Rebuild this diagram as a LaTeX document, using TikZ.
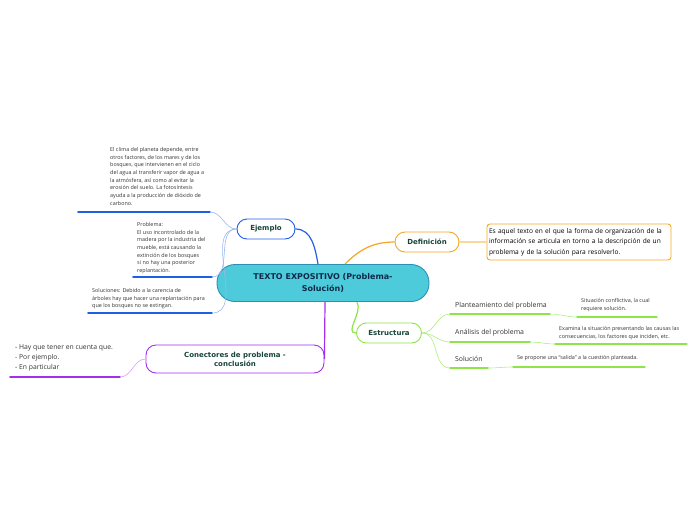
\documentclass[tikz,border=0pt]{standalone}
\usepackage{fontspec}
\setmainfont{Open Sans}
\newfontfamily\titlefont{DejaVu Sans}
\usetikzlibrary{positioning}
\definecolor{hub}{HTML}{4ECBDB}
\definecolor{hubline}{HTML}{2A8FB2}
\definecolor{navy}{HTML}{0E2A4A}
\definecolor{deep}{HTML}{17453A}
\definecolor{ejblue}{HTML}{1F5FE8}
\definecolor{deforange}{HTML}{F5A623}
\definecolor{estgreen}{HTML}{8EE54A}
\definecolor{conpurple}{HTML}{A22EF0}
\definecolor{leaftext}{HTML}{333333}

\begin{document}
\begin{tikzpicture}[x=1pt,y=-1pt,
    topic/.style={draw,line width=0.9pt,fill=white,rounded corners=10pt,align=center,inner sep=2pt,
      text=deep,font=\titlefont\bfseries\fontsize{7}{9}\selectfont},
    hubbox/.style={draw=hubline,line width=0.9pt,fill=hub,rounded corners=18pt,align=center,
      minimum width=212pt,minimum height=37pt,text=navy,font=\titlefont\bfseries\fontsize{8}{11.5}\selectfont},
    leaf/.style={anchor=north west,inner sep=0pt,align=left,text=leaftext,font=\fontsize{5.4}{7.7}\selectfont},
    label/.style={anchor=west,inner sep=0pt,text=leaftext,font=\fontsize{6.9}{8}\selectfont},
    uline/.style={line width=1.6pt,line cap=round},
    twig/.style={line width=0.6pt},
    branch/.style={line width=1.2pt}
  ]
    \useasboundingbox (0,0) rectangle (696,520);
    % main topic and its four branches
    \node[hubbox] (hub) at (323,283) {TEXTO EXPOSITIVO (Problema-\\Solución)};
    \node[topic,draw=ejblue,minimum width=58pt,minimum height=20pt] (ejemplo) at (266,229) {Ejemplo};
    \node[topic,draw=deforange,minimum width=64pt,minimum height=20pt] (defin) at (427,242) {Definición};
    \node[topic,draw=estgreen,minimum width=65pt,minimum height=20pt] (estruc) at (389,333) {Estructura};
    \node[topic,draw=conpurple,minimum width=178pt,minimum height=28pt] (conect) at (235,359) {Conectores de problema -\\conclusión};
    \draw[branch,ejblue] ([xshift=-5pt]hub.north) to[out=100,in=0] (ejemplo.east);
    \draw[branch,deforange] ([xshift=22pt]hub.north) to[out=45,in=180] (defin.west);
    \draw[branch,estgreen] ([xshift=34pt]hub.south) to[out=-60,in=180] (estruc.west);
    \draw[branch,conpurple] ([xshift=2pt]hub.south) -- (conect.east);

    % Ejemplo
    \node[leaf] (ej1) at (110,147) {El clima del planeta depende, entre\\otros factores, de los mares y de los\\bosques, que intervienen en el ciclo\\del agua al transferir vapor de agua a\\la atmósfera, así como al evitar la\\erosión del suelo. La fotosíntesis\\ayuda a la producción de dióxido de\\carbono.};
    \node[leaf] (ej2) at (137,222) {Problema:\\El uso incontrolado de la\\madera por la industria del\\mueble, está causando la\\extinción de los bosques\\si no hay una posterior\\replantación.};
    \node[leaf] (ej3) at (92,288) {Soluciones: Debido a la carencia de\\árboles hay que hacer una replantación para\\que los bosques no se extingan.};
    \coordinate (ej1a) at (78,212); \coordinate (ej1b) at (210,212);
    \coordinate (ej2a) at (133,277); \coordinate (ej2b) at (212,277);
    \coordinate (ej3a) at (88,313); \coordinate (ej3b) at (212,313);
    \draw[uline,ejblue] (ej1a) -- (ej1b);
    \draw[uline,ejblue] (ej2a) -- (ej2b);
    \draw[uline,ejblue] (ej3a) -- (ej3b);
    \draw[twig,ejblue!45] (ejemplo.west) to[out=180,in=0] (ej1b);
    \draw[twig,ejblue!45] (ejemplo.west) to[out=180,in=0] (ej2b);
    \draw[twig,ejblue!45] (ejemplo.west) to[out=180,in=0] (ej3b);

    % Definición
    \node[draw=deforange,line width=0.9pt,rounded corners=3pt,minimum width=184pt,minimum height=36pt,
      text width=180pt,inner sep=2pt,align=left,text=black,font=\fontsize{6.6}{10.5}\selectfont] (deftext) at (579,242)
      {Es aquel texto en el que la forma de organización de la\\información se articula en torno a la descripción de un\\problema y de la solución para resolverlo.};
    \draw[branch,deforange!45] (defin.east) -- (deftext.west);

    % Estructura
    \node[label] (plan) at (455,306) {Planteamiento del problema};
    \node[label] (anal) at (455,333) {Análisis del problema};
    \node[label] (solu) at (455,359) {Solución};
    \coordinate (plana) at (450,314); \coordinate (planb) at (550,314);
    \coordinate (anala) at (450,342); \coordinate (analb) at (530,342);
    \coordinate (solua) at (450,368); \coordinate (solub) at (488,368);
    \draw[uline,estgreen] (plana) -- (planb);
    \draw[uline,estgreen] (anala) -- (analb);
    \draw[uline,estgreen] (solua) -- (solub);
    \draw[twig,estgreen!70] (estruc.east) to[out=0,in=180] (plana);
    \draw[twig,estgreen!70] (estruc.east) to[out=0,in=180] (anala);
    \draw[twig,estgreen!70] (estruc.east) to[out=0,in=180] (solua);
    \node[leaf] (plansub) at (581,298) {Situación conflictiva, la cual\\requiere solución.};
    \node[leaf] (analsub) at (559,326) {Examina la situación presentando las causas las\\consecuencias, los factores que inciden, etc.};
    \node[leaf] (solusub) at (517,355) {Se propone una ``salida'' a la cuestión planteada.};
    \coordinate (plansa) at (577,317); \coordinate (plansb) at (657,317);
    \coordinate (analsa) at (555,344); \coordinate (analsb) at (687,344);
    \coordinate (solusa) at (513,367); \coordinate (solusb) at (645,367);
    \draw[uline,line width=1.2pt,estgreen] (plansa) -- (plansb);
    \draw[uline,line width=1.2pt,estgreen] (analsa) -- (analsb);
    \draw[uline,line width=1.2pt,estgreen] (solusa) -- (solusb);
    \draw[twig,estgreen!70] (planb) to[out=0,in=180] (plansa);
    \draw[twig,estgreen!70] (analb) to[out=0,in=180] (analsa);
    \draw[twig,estgreen!70] (solub) to[out=0,in=180] (solusa);

    % Conectores
    \node[leaf,font=\fontsize{6.8}{10}\selectfont] (context) at (15,344) {- Hay que tener en cuenta que.\\- Por ejemplo.\\- En particular};
    \coordinate (cona) at (10,377); \coordinate (conb) at (120,377);
    \draw[uline,conpurple] (cona) -- (conb);
    \draw[twig,conpurple!45] (conect.west) to[out=180,in=0] (conb);
  \end{tikzpicture}
\end{document}
